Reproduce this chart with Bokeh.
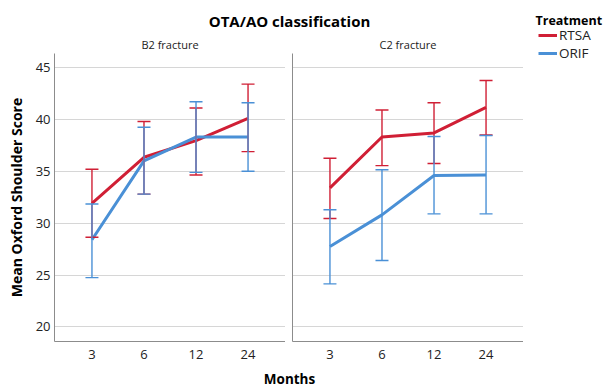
from bokeh.plotting import figure
from bokeh.models import (ColumnDataSource, FactorRange, Range1d, Whisker, TeeHead,
                          Label, Legend, LegendItem, FixedTicker)
from bokeh.layouts import column, row
from bokeh.embed import file_html
from bokeh.resources import INLINE

# ---------------- data ----------------
months = ["3", "6", "12", "24"]
panels = ["B2 fracture", "C2 fracture"]
treatments = ["RTSA", "ORIF"]

b2_rtsa = [31.9, 36.35, 37.95, 40.1]
b2_rtsa_lo = [28.65, 32.8, 34.65, 36.9]
b2_rtsa_hi = [35.2, 39.8, 41.1, 43.4]
b2_orif = [28.4, 36.0, 38.3, 38.3]
b2_orif_lo = [24.75, 32.8, 34.9, 35.0]
b2_orif_hi = [31.85, 39.25, 41.7, 41.6]

c2_rtsa = [33.4, 38.3, 38.7, 41.15]
c2_rtsa_lo = [30.45, 35.55, 35.75, 38.5]
c2_rtsa_hi = [36.25, 40.9, 41.6, 43.75]
c2_orif = [27.75, 30.8, 34.6, 34.65]
c2_orif_lo = [24.15, 26.4, 30.9, 30.9]
c2_orif_hi = [31.3, 35.15, 38.35, 38.45]

y_ticks = [20, 25, 30, 35, 40, 45]

# ---------------- style ----------------
FONT = "Open Sans"
RED = "#d01f35"
BLUE = "#4a90d6"
AXIS = "#8c8c8c"
GRID = "#d6d6d6"
TEXT = "#222222"

LEFT_W = 523          # width of the column holding the panels
LEG_W = 605 - LEFT_W  # legend strip on the right
TOTAL_H = 389
TOP_H = 30
BOT_H = 23
PANEL_H = TOTAL_H - TOP_H - BOT_H
F1_W = 285
F2_W = LEFT_W - F1_W
COLORS = {"RTSA": RED, "ORIF": BLUE}
Y_RANGE = (18.6, 46.35)


def panel(width, border_left, title, series, show_yaxis):
    p = figure(width=width, height=PANEL_H, output_backend="svg", toolbar_location=None,
               x_range=FactorRange(*months, range_padding=0.11, range_padding_units="percent"),
               y_range=Range1d(*Y_RANGE),
               min_border_left=border_left, min_border_right=0,
               min_border_top=23, min_border_bottom=25)
    p.outline_line_color = None
    p.background_fill_color = "white"
    p.border_fill_color = "white"
    p.xgrid.grid_line_color = None
    p.ygrid.ticker = FixedTicker(ticks=y_ticks)
    p.ygrid.grid_line_color = GRID
    p.ygrid.grid_line_width = 1.2

    p.title.text = title
    p.title.align = "center"
    p.title.text_font = FONT
    p.title.text_font_size = "11px"
    p.title.text_font_style = "normal"
    p.title.text_color = TEXT
    p.title.standoff = 4

    xa = p.xaxis[0]
    xa.axis_line_color = AXIS
    xa.major_tick_line_color = None
    xa.minor_tick_line_color = None
    xa.major_tick_out = 0
    xa.major_tick_in = 0
    xa.major_label_standoff = 8
    xa.major_label_text_font = FONT
    xa.major_label_text_font_size = "13px"
    xa.major_label_text_color = TEXT

    ya = p.yaxis[0]
    ya.axis_line_color = AXIS
    ya.major_tick_line_color = None
    ya.minor_tick_line_color = None
    ya.major_tick_out = 0
    ya.major_tick_in = 0
    if show_yaxis:
        ya.ticker = FixedTicker(ticks=y_ticks)
        ya.major_label_standoff = 4
        ya.major_label_text_font = FONT
        ya.major_label_text_font_size = "13px"
        ya.major_label_text_color = TEXT
        ya.axis_label = "Mean Oxford Shoulder Score"
        ya.axis_label_text_font = FONT
        ya.axis_label_text_font_style = "bold"
        ya.axis_label_text_font_size = "14px"
        ya.axis_label_text_color = "black"
        ya.axis_label_standoff = 7
    else:
        ya.ticker = FixedTicker(ticks=[])
        ya.major_label_standoff = 0

    sources = []
    for name, mean, lo, hi in series:
        color = COLORS[name]
        src = ColumnDataSource(dict(m=months, mean=mean, lo=lo, hi=hi))
        w = Whisker(source=src, base="m", upper="hi", lower="lo", dimension="height",
                    line_color=color, line_width=1.4, level="glyph",
                    upper_head=TeeHead(size=13, line_color=color, line_width=1.4),
                    lower_head=TeeHead(size=13, line_color=color, line_width=1.4))
        p.add_layout(w)
        sources.append((src, color))
    for src, color in sources:
        p.line(x="m", y="mean", source=src, line_color=color, line_width=3)
    return p


p1 = panel(F1_W, 54, panels[0],
           [("RTSA", b2_rtsa, b2_rtsa_lo, b2_rtsa_hi),
            ("ORIF", b2_orif, b2_orif_lo, b2_orif_hi)], True)
p2 = panel(F2_W, 7, panels[1],
           [("RTSA", c2_rtsa, c2_rtsa_lo, c2_rtsa_hi),
            ("ORIF", c2_orif, c2_orif_lo, c2_orif_hi)], False)


def strip(width, height, x_range=None, y_range=None):
    s = figure(width=width, height=height, output_backend="svg", toolbar_location=None,
               x_range=x_range if x_range is not None else Range1d(0, width),
               y_range=y_range if y_range is not None else Range1d(0, height),
               x_axis_location=None, y_axis_location=None, min_border=0)
    s.outline_line_color = None
    s.xgrid.visible = False
    s.ygrid.visible = False
    return s


top = strip(LEFT_W, TOP_H)
top.add_layout(Label(x=289, y=TOP_H - 20, text="OTA/AO classification", text_align="center",
                     text_baseline="middle", text_font=FONT, text_font_style="bold",
                     text_font_size="15px", text_color="black"))

bottom = strip(LEFT_W, BOT_H)
bottom.add_layout(Label(x=289, y=TOTAL_H - 378, text="Months", text_align="center",
                        text_baseline="middle", text_font=FONT, text_font_style="bold",
                        text_font_size="13.5px", text_color="black"))

# legend strip: hidden copies of the C2 series act as legend proxies
leg = strip(LEG_W, TOTAL_H, x_range=FactorRange(*months), y_range=Range1d(*Y_RANGE))
leg.add_layout(Label(x=12, y=TOTAL_H - 20, x_units="screen", y_units="screen",
                     text="Treatment", text_align="left",
                     text_baseline="middle", text_font=FONT, text_font_style="bold",
                     text_font_size="12.5px", text_color="black"))
items = []
for name, mean in zip(treatments, [c2_rtsa, c2_orif]):
    proxy = leg.line(x="m", y="mean", source=ColumnDataSource(dict(m=months, mean=mean)),
                     line_color=COLORS[name], line_width=3, visible=False)
    items.append(LegendItem(label=name, renderers=[proxy]))
legend = Legend(items=items, location=(15, TOTAL_H - 62), orientation="vertical",
                padding=0, margin=0, spacing=0, label_height=16, glyph_height=16,
                glyph_width=19, label_standoff=2,
                label_text_font=FONT, label_text_font_size="13.5px", label_text_color=TEXT,
                border_line_color=None, background_fill_alpha=0)
leg.add_layout(legend)

layout = row(column(top, row(p1, p2), bottom), leg)

open("out.html", "w").write(file_html(layout, INLINE))
